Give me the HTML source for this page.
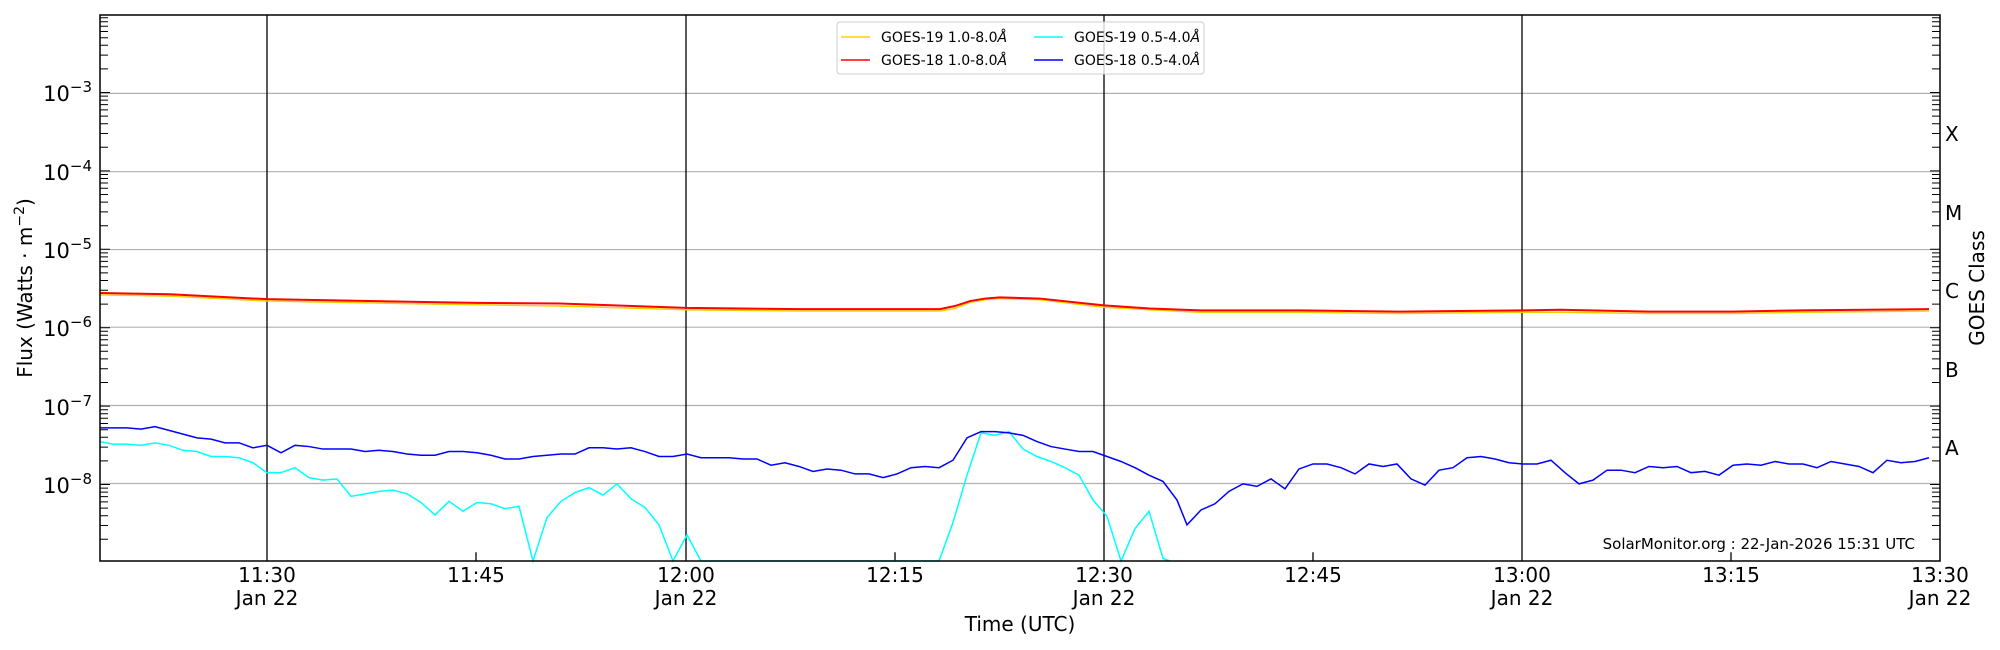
<!DOCTYPE html>
<html><head><meta charset="utf-8"><style>
body{margin:0;background:#fff}
svg{display:block;font-family:"DejaVu Sans","Liberation Sans",sans-serif}
polyline,line{vector-effect:non-scaling-stroke}
</style></head><body>
<svg width="2000" height="650" xmlns="http://www.w3.org/2000/svg">
<rect width="2000" height="650" fill="#fff"/>
<g transform="translate(0,15) scale(1,1.2437) translate(0,-12)">
<g stroke="#b0b0b0" stroke-width="1.2">
<line x1="100" x2="1940" y1="75" y2="75"/><line x1="100" x2="1940" y1="138" y2="138"/>
<line x1="100" x2="1940" y1="200.6" y2="200.6"/><line x1="100" x2="1940" y1="263" y2="263"/>
<line x1="100" x2="1940" y1="326" y2="326"/><line x1="100" x2="1940" y1="388.7" y2="388.7"/>
</g>
<g stroke="#000" stroke-width="1.3">
<line x1="267" x2="267" y1="12" y2="451"/><line x1="686" x2="686" y1="12" y2="451"/>
<line x1="1104" x2="1104" y1="12" y2="451"/><line x1="1522" x2="1522" y1="12" y2="451"/>
<line x1="476" x2="476" y1="451" y2="444"/><line x1="895" x2="895" y1="451" y2="444"/>
<line x1="1313" x2="1313" y1="451" y2="444"/><line x1="1731" x2="1731" y1="451" y2="444"/>
</g>
<polyline fill="none" stroke="#ffd000" stroke-width="1.5" points="100,237 170,238 267,242 476,245 560,246 686,249 800,250 895,250 940,250 955,248 970,243 985,241 1000,240 1040,241 1104,247 1150,249 1200,251 1300,251 1400,252 1522,251 1560,251 1650,252 1731,252 1800,251 1929,250"/>
<polyline fill="none" stroke="#ff0000" stroke-width="2" points="100,235.5 170,236.5 267,240.5 476,243.5 560,244 686,247.5 800,248.5 895,248.5 940,248.5 955,246 970,242 985,240 1000,239 1040,240 1104,245.5 1150,248 1200,249.5 1300,249.5 1400,250.5 1522,249.5 1560,249 1650,250.5 1731,250.5 1800,249.5 1929,248.5"/>
<polyline fill="none" stroke="#00ffff" stroke-width="1.5" points="100,355 113,357 127,357 141,358 155,356 169,358 183,362 197,363 211,367 225,367 239,368 253,372 267,380 281,380 295,376 309,384 323,386 337,385 351,399 365,397 379,395 393,394 407,397 421,404 435,414 449,403 463,411 477,404 491,405 505,409 519,407 533,451 547,416 561,403 575,396 589,392 603,398 617,389 631,401 645,408 659,422 673,451 687,430 701,451 939,451 953,420 967,382 981,348 995,350 1009,347 1023,361 1037,367 1051,371 1065,376 1079,382 1093,402 1107,415 1121,451 1135,425 1149,411 1163,449 1170,451"/>
<polyline fill="none" stroke="#0000ff" stroke-width="1.5" points="100,344 113,344 127,344 141,345 155,343 169,346 183,349 197,352 211,353 225,356 239,356 253,360 267,358 281,364 295,358 309,359 323,361 337,361 351,361 365,363 379,362 393,363 407,365 421,366 435,366 449,363 463,363 477,364 491,366 505,369 519,369 533,367 547,366 561,365 575,365 589,360 603,360 617,361 631,360 645,363 659,367 673,367 687,365 701,368 715,368 729,368 743,369 757,369 771,374 785,372 799,375 813,379 827,377 841,378 855,381 869,381 883,384 897,381 911,376 925,375 939,376 953,370 967,352 981,347 995,347 1009,348 1023,350 1037,355 1051,359 1065,361 1079,363 1093,363 1107,367 1121,371 1135,376 1149,382 1163,387 1177,402 1187,422 1201,410 1215,405 1229,395 1243,389 1257,391 1271,385 1285,393 1299,377 1313,373 1327,373 1341,376 1355,381 1369,373 1383,375 1397,373 1411,385 1425,390 1439,378 1453,376 1467,368 1481,367 1495,369 1509,372 1523,373 1537,373 1551,370 1565,380 1579,389 1593,386 1607,378 1621,378 1635,380 1649,375 1663,376 1677,375 1691,380 1705,379 1719,382 1733,374 1747,373 1761,374 1775,371 1789,373 1803,373 1817,376 1831,371 1845,373 1859,375 1873,380 1887,370 1901,372 1915,371 1929,368"/>
</g>
<path stroke="#000" stroke-width="1" fill="none" d="M100 539.3h8M100 525.5h8M100 515.7h8M100 508.1h8M100 501.9h8M100 496.6h8M100 492.1h8M100 488.1h8M100 484.5h10M100 460.9h8M100 447.1h8M100 437.3h8M100 429.7h8M100 423.5h8M100 418.2h8M100 413.7h8M100 409.7h8M100 406.1h10M100 382.5h8M100 368.7h8M100 358.9h8M100 351.3h8M100 345.1h8M100 339.8h8M100 335.3h8M100 331.3h8M100 327.7h10M100 304.1h8M100 290.3h8M100 280.5h8M100 272.9h8M100 266.7h8M100 261.4h8M100 256.9h8M100 252.9h8M100 249.3h10M100 225.7h8M100 211.9h8M100 202.1h8M100 194.5h8M100 188.3h8M100 183h8M100 178.5h8M100 174.5h8M100 170.9h10M100 147.3h8M100 133.5h8M100 123.7h8M100 116.1h8M100 109.9h8M100 104.6h8M100 100.1h8M100 96.1h8M100 92.5h10M100 68.9h8M100 55.1h8M100 45.3h8M100 37.7h8M100 31.5h8M100 26.2h8M100 21.7h8M100 17.7h8"/>
<path stroke="#000" stroke-width="1" fill="none" d="M1932 539.3h8M1932 525.5h8M1932 515.7h8M1932 508.1h8M1932 501.9h8M1932 496.6h8M1932 492.1h8M1932 488.1h8M1930 484.5h10M1932 460.9h8M1932 447.1h8M1932 437.3h8M1932 429.7h8M1932 423.5h8M1932 418.2h8M1932 413.7h8M1932 409.7h8M1930 406.1h10M1932 382.5h8M1932 368.7h8M1932 358.9h8M1932 351.3h8M1932 345.1h8M1932 339.8h8M1932 335.3h8M1932 331.3h8M1930 327.7h10M1932 304.1h8M1932 290.3h8M1932 280.5h8M1932 272.9h8M1932 266.7h8M1932 261.4h8M1932 256.9h8M1932 252.9h8M1930 249.3h10M1932 225.7h8M1932 211.9h8M1932 202.1h8M1932 194.5h8M1932 188.3h8M1932 183h8M1932 178.5h8M1932 174.5h8M1930 170.9h10M1932 147.3h8M1932 133.5h8M1932 123.7h8M1932 116.1h8M1932 109.9h8M1932 104.6h8M1932 100.1h8M1932 96.1h8M1930 92.5h10M1932 68.9h8M1932 55.1h8M1932 45.3h8M1932 37.7h8M1932 31.5h8M1932 26.2h8M1932 21.7h8M1932 17.7h8"/>
<rect x="100" y="15" width="1840" height="546" fill="none" stroke="#000" stroke-width="1.5"/>
<g>
<rect x="837" y="22" width="367" height="52" fill="#fff" fill-opacity="0.8" stroke="#ccc" rx="3"/>
<line x1="841" x2="870" y1="37" y2="37" stroke="#ffd000" stroke-width="1.5"/>
<line x1="841" x2="870" y1="60" y2="60" stroke="#ff0000" stroke-width="1.5"/>
<line x1="1034" x2="1063" y1="37" y2="37" stroke="#00ffff" stroke-width="1.5"/>
<line x1="1034" x2="1063" y1="60" y2="60" stroke="#0000ff" stroke-width="1.5"/>
<g font-size="14" fill="#000">
<text x="881" y="42">GOES-19 1.0-8.0<tspan font-style="italic">Å</tspan></text>
<text x="881" y="65">GOES-18 1.0-8.0<tspan font-style="italic">Å</tspan></text>
<text x="1074" y="42">GOES-19 0.5-4.0<tspan font-style="italic">Å</tspan></text>
<text x="1074" y="65">GOES-18 0.5-4.0<tspan font-style="italic">Å</tspan></text>
</g></g>
<g font-size="21" fill="#000" text-anchor="end">
<text x="92" y="101">10<tspan dy="-9" font-size="15">−3</tspan></text>
<text x="92" y="180">10<tspan dy="-9" font-size="15">−4</tspan></text>
<text x="92" y="258">10<tspan dy="-9" font-size="15">−5</tspan></text>
<text x="92" y="336">10<tspan dy="-9" font-size="15">−6</tspan></text>
<text x="92" y="415">10<tspan dy="-9" font-size="15">−7</tspan></text>
<text x="92" y="493">10<tspan dy="-9" font-size="15">−8</tspan></text>
</g>
<g font-size="20" fill="#000">
<text x="1945" y="141">X</text><text x="1945" y="220">M</text><text x="1945" y="298">C</text>
<text x="1945" y="377">B</text><text x="1945" y="455">A</text>
<text transform="translate(1984,288) rotate(-90)" text-anchor="middle">GOES Class</text>
<text transform="translate(32,288) rotate(-90)" text-anchor="middle">Flux (Watts · m<tspan dy="-8" font-size="14">−2</tspan><tspan dy="8">)</tspan></text>
</g>
<g font-size="20" fill="#000" text-anchor="middle">
<text x="267" y="582">11:30</text><text x="267" y="605">Jan 22</text>
<text x="476" y="582">11:45</text>
<text x="686" y="582">12:00</text><text x="686" y="605">Jan 22</text>
<text x="895" y="582">12:15</text>
<text x="1104" y="582">12:30</text><text x="1104" y="605">Jan 22</text>
<text x="1313" y="582">12:45</text>
<text x="1522" y="582">13:00</text><text x="1522" y="605">Jan 22</text>
<text x="1731" y="582">13:15</text>
<text x="1940" y="582">13:30</text><text x="1940" y="605">Jan 22</text>
<text x="1020" y="631">Time (UTC)</text>
</g>
<text x="1915" y="549" font-size="15" text-anchor="end" fill="#000">SolarMonitor.org : 22-Jan-2026 15:31 UTC</text>
</svg>
</body></html>
